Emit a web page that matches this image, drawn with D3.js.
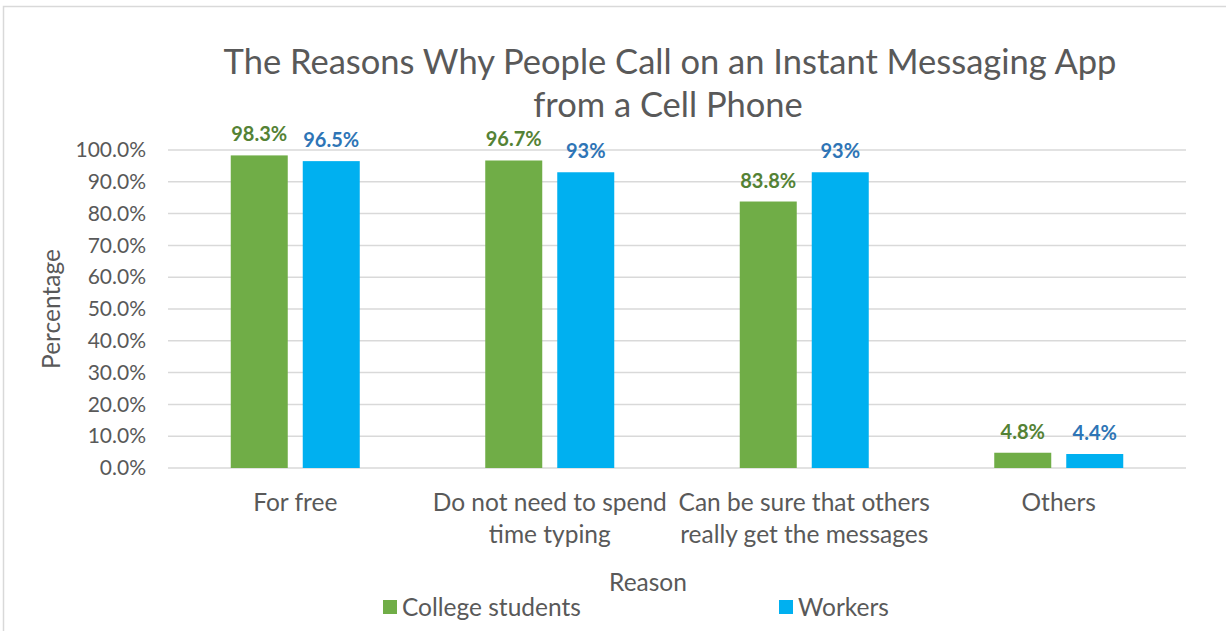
<!DOCTYPE html>
<html>
<head>
<meta charset="utf-8">
<script src="https://cdn.jsdelivr.net/npm/d3@7"></script>
<style>
  body { margin: 0; background: #fff; }
  text { font-family: Lato, "Open Sans", sans-serif; }
</style>
</head>
<body>
<div id="chart"></div>
<script>
// data
var categories = [["For free"], ["Do not need to spend", "time typing"], ["Can be sure that others", "really get the messages"], ["Others"]];
var seriesNames = ["College students", "Workers"];
var collegeValues = [0.983, 0.967, 0.838, 0.048];
var workerValues = [0.965, 0.93, 0.93, 0.044];
var valueLabels = [["98.3%", "96.7%", "83.8%", "4.8%"], ["96.5%", "93%", "93%", "4.4%"]];
var yTicks = [0, 0.1, 0.2, 0.3, 0.4, 0.5, 0.6, 0.7, 0.8, 0.9, 1.0];

var barColor = ["#70ad47", "#00b0f0"];
var labelColor = ["#548235", "#2e75b6"];

var W = 1226, H = 631;
var margin = {top: 150, right: 40, bottom: 163, left: 168};

var svg = d3.select("#chart").append("svg")
    .attr("width", W)
    .attr("height", H);

// chart border
svg.append("rect")
    .attr("x", 3.5).attr("y", 6.5)
    .attr("width", W + 10).attr("height", H + 10)
    .style("fill", "none")
    .style("stroke", "#d9d9d9")
    .style("stroke-width", 1.5);

var keys = categories.map(function(d){ return d.join(" "); });

var x = d3.scaleBand()
    .domain(keys)
    .range([margin.left, W - margin.right]);

var groupPad = (x.bandwidth() - 129) / 2;
var xInner = d3.scaleBand()
    .domain(seriesNames)
    .range([groupPad, groupPad + 129])
    .paddingInner(15 / 72);

var y = d3.scaleLinear()
    .domain([0, 1])
    .range([H - margin.bottom, margin.top]);

// gridlines
svg.append("g")
    .selectAll("line")
    .data(yTicks)
    .enter()
    .append("line")
      .attr("x1", margin.left)
      .attr("x2", W - margin.right)
      .attr("y1", function(d){ return y(d); })
      .attr("y2", function(d){ return y(d); })
      .style("stroke", "#d9d9d9")
      .style("stroke-width", 1.5);

// y axis labels
var yAxis = d3.axisLeft(y).tickValues(yTicks).tickFormat(d3.format(".1%")).tickSize(0).tickPadding(22);
var gy = svg.append("g")
    .attr("transform", "translate(" + margin.left + ",0)")
    .call(yAxis);
gy.select(".domain").remove();
gy.selectAll("text")
    .style("font-family", "Lato, sans-serif")
    .style("font-size", "21px")
    .style("fill", "#595959");

// bars
var rows = keys.map(function(k, i){
  return {key: k, values: [collegeValues[i], workerValues[i]]};
});

var groups = svg.selectAll(".grp")
    .data(rows)
    .enter()
    .append("g")
      .attr("class", "grp")
      .attr("transform", function(d){ return "translate(" + x(d.key) + ",0)"; });

groups.selectAll("rect")
    .data(function(d){ return d.values.map(function(v, j){ return {s: j, v: v}; }); })
    .enter()
    .append("rect")
      .attr("x", function(d){ return xInner(seriesNames[d.s]); })
      .attr("y", function(d){ return y(d.v); })
      .attr("width", xInner.bandwidth())
      .attr("height", function(d){ return y(0) - y(d.v); })
      .style("fill", function(d){ return barColor[d.s]; });

// value labels
groups.each(function(d, i){
  var g = d3.select(this);
  d.values.forEach(function(v, j){
    g.append("text")
      .attr("x", xInner(seriesNames[j]) + xInner.bandwidth() / 2)
      .attr("y", y(v) - 14)
      .attr("text-anchor", "middle")
      .style("font-size", "20px")
      .style("font-weight", "bold")
      .style("fill", labelColor[j])
      .text(valueLabels[j][i]);
  });
});

// category labels
categories.forEach(function(lines, i){
  var t = svg.append("text")
      .attr("x", x(keys[i]) + x.bandwidth() / 2)
      .attr("y", 511)
      .attr("text-anchor", "middle")
      .style("font-size", "24.5px")
      .style("fill", "#595959");
  lines.forEach(function(l, k){
    t.append("tspan")
      .attr("x", x(keys[i]) + x.bandwidth() / 2)
      .attr("dy", k === 0 ? 0 : 32)
      .text(l);
  });
});

// title
svg.append("text")
    .attr("x", 670).attr("y", 74)
    .attr("text-anchor", "middle")
    .style("font-size", "34.5px")
    .style("fill", "#595959")
    .text("The Reasons Why People Call on an Instant Messaging App");
svg.append("text")
    .attr("x", 668).attr("y", 117)
    .attr("text-anchor", "middle")
    .style("font-size", "34.5px")
    .style("fill", "#595959")
    .text("from a Cell Phone");

// axis titles
svg.append("text")
    .attr("transform", "translate(60," + ((margin.top + H - margin.bottom) / 2) + ") rotate(-90)")
    .attr("text-anchor", "middle")
    .style("font-size", "24.5px")
    .style("fill", "#595959")
    .text("Percentage");

svg.append("text")
    .attr("x", 648).attr("y", 591)
    .attr("text-anchor", "middle")
    .style("font-size", "24.5px")
    .style("fill", "#595959")
    .text("Reason");

// legend
var legendX = [383, 779];
seriesNames.forEach(function(s, j){
  svg.append("rect")
    .attr("x", legendX[j]).attr("y", 600)
    .attr("width", 14).attr("height", 14)
    .style("fill", barColor[j]);
  svg.append("text")
    .attr("x", legendX[j] + 19).attr("y", 616)
    .style("font-size", "24.5px")
    .style("fill", "#595959")
    .text(s);
});
</script>
</body>
</html>
